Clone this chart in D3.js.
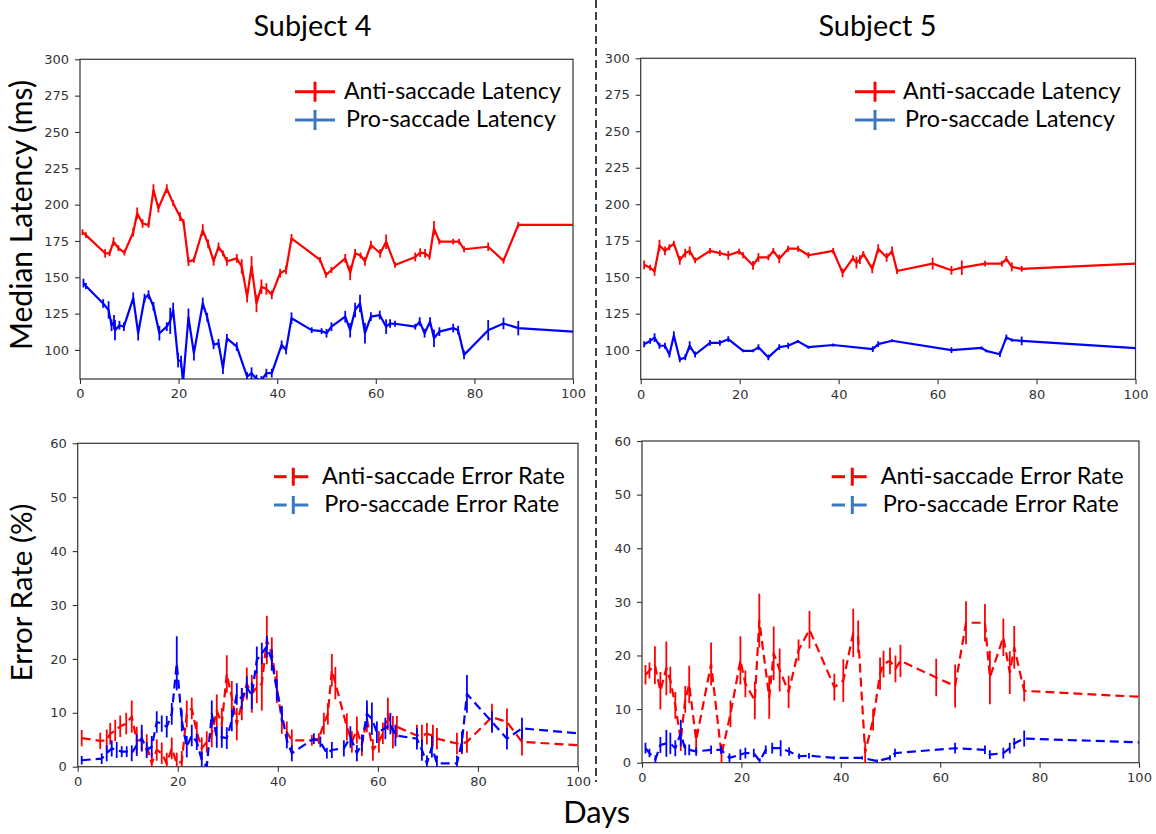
<!DOCTYPE html>
<html><head><meta charset="utf-8">
<script src="https://cdn.jsdelivr.net/npm/d3@7"></script>
<style>html,body{margin:0;padding:0;background:#fff;}svg{display:block;}</style>
</head><body>
<script>
// ---------------- DATA ----------------
const xTicks = [0, 20, 40, 60, 80, 100];
const latencyTicks = [100, 125, 150, 175, 200, 225, 250, 275, 300];
const errorTicks = [0, 10, 20, 30, 40, 50, 60];
const subjects = ["Subject 4", "Subject 5"];
const latencyLegend = ["Anti-saccade Latency", "Pro-saccade Latency"];
const errorLegend = ["Anti-saccade Error Rate", "Pro-saccade Error Rate"];

// Subject 4 - latency
const s4AntiLatDays = [0.5,1.2,5.1,6,6.8,7.8,9,10.8,11.6,12.7,13.9,14.9,15.9,17.6,18.9,20.3,21,22,23.1,24.9,26,27.1,28.1,29,29.8,31.8,32.8,33.9,34.8,35.8,36.8,37.8,38.9,40.6,41.8,42.9,48.7,49.9,51,53.8,54.8,55.8,56.9,57.8,59,60.9,62.1,63.9,68,69,70,70.9,71.8,72.9,75.7,76.9,77.9,82.8,85.9,88.9,100];
const s4AntiLatVals = [181,179,166.5,166.5,174.5,170,167,181,194,187,186,210,197.5,211,201,191.7,188,160.8,162,182.5,173,161,171,166.5,161,163,157.5,136.7,157.5,132,143.5,142,138,152.8,155,176.8,162,151.6,155,163,153,166.5,165,161,172.2,166.5,174.5,158.5,164,167,166.5,164,183.7,174.5,174.5,174.5,169.3,171,161.4,186,186];
const s4AntiLatErr = [2,2,3,2,3,2,2,3,4,3,2,4,3,3,2,3,2,3,2,4,3,3,3,2,3,3,5,4,7,6,5,4,3,3,3,3,2,2,2,3,5,3,2,3,3,3,5,2,3,3,3,2,5,2,2,2,2,3,2,2,0];
const s4ProLatDays = [0.7,1.2,4.7,5.8,6.4,6.9,7.1,8,8.9,10.8,11.8,13.1,13.9,14.9,16.1,17.6,18.3,18.9,19.9,20.5,20.9,22,23.1,24.9,25.8,27.1,28.1,29,29.8,31.8,33.9,34.8,35.8,36.8,37.8,38.9,40.9,41.8,42.9,47,49,50,51,53.8,54.8,55.8,56.8,57.8,59,60.8,62.1,62.9,63.9,68,68.9,69.9,71,71.8,72.9,75.7,76.7,77.9,82.8,85.9,88.9,100];
const s4ProLatVals = [146,144,132,127.5,117,119,113.6,117,116,135.6,111.5,135.6,138,130,111.5,116,120,127.5,93,92,78,122.5,97.7,132,122.5,103.5,104.6,87.4,108,102.3,81.7,84,80,79,84,84,103.5,100,121.8,113.6,113,111.5,116,122.9,113.6,127.5,132,111.5,122.9,124,116,118.2,118,116,119.5,111.5,119.5,108,112.6,115,113.6,96.6,113.6,118.2,115,112.6];
const s4ProLatErr = [3,2,3,6,4,5,7,3,3,4,5,3,3,3,5,3,9,5,5,4,5,6,5,4,3,3,3,4,3,3,3,4,3,3,3,3,3,3,4,2,2,3,3,4,5,5,6,7,3,3,5,3,2,2,3,3,3,6,3,3,3,3,7,4,5,0];

// Subject 5 - latency
const s5AntiLatDays = [0.7,1.9,2.8,3.8,4.9,5.8,6.7,7.9,9,9.9,11,14,16,17.7,19.9,20.7,22.7,23.8,25.8,26.8,28,29.8,31.8,33.9,38.9,40.8,42.9,43.6,44.3,45,46.8,48,49.7,50.8,51.8,59,62.8,64.9,69.6,73,73.9,75,77,100];
const s5AntiLatVals = [158.5,156.5,154,171.7,168,170.5,173,161.5,166.5,168,161.5,168,166.5,165,167.5,165,158,163.6,163.6,168,162.5,169.5,169.5,165,168,153,163,160,162,166,155.7,169.5,163.6,168,154.2,159.3,154.7,156.5,159.3,159.3,162.5,157,155.7,159.3];
const s5AntiLatErr = [3,2,3,4,3,2,2,3,3,3,2,2,2,3,2,2,3,3,2,2,3,2,2,2,2,3,2,4,3,2,3,3,3,3,2,4,3,5,2,2,2,3,2,0];
const s5ProLatDays = [0.7,1.9,2.8,3.8,4.9,5.8,6.7,7.9,9,9.9,11,14,16,17.7,20.7,22.7,23.8,25.8,28,29.8,31.8,33.9,38.9,46.9,48,50.8,62.8,68.9,69.8,72.6,73.9,75,77,100];
const s5ProLatVals = [104,106.3,108.6,103,103,97,110,93.6,95,103,97,105,105,107.5,99.5,99.5,102,95,102,103,106,102,103.5,100.7,104.1,106.4,100,101.5,99.5,97.2,108.7,106.9,106.4,101.4];
const s5ProLatErr = [2,2,3,2,2,2,3,2,2,3,2,2,2,2,1,1,2,2,2,2,1,1,1,2,2,1,2,1,1,2,2,1,3,0];

// Subject 4 - error rate
const s4AntiErrDays = [0.8,4.5,5.8,6.5,7.5,8.5,9.7,10.8,11.8,12.8,13.8,14.8,15.8,16.8,17.8,18.8,19.8,20.8,21.8,22.8,23.8,24.8,25.8,26.8,27.8,28.8,29.8,30.8,31.8,32.8,33.8,34.8,35.8,36.8,37.8,38.8,39.8,40.8,41.8,42.8,46.8,48.2,49.2,50,50.8,51.5,53.8,54.8,55.8,56.8,57.8,59,60.2,61,62,63,63.8,67.8,68.8,69.8,71,71.8,75.8,76.8,77.8,82.8,85.8,88.8,100];
const s4AntiErrVals = [5.3,4.8,4.9,6.1,6.7,7.5,8,9.3,4.9,4.9,4,0.6,3.1,2.5,0.6,3.4,0.6,0.9,9.8,10.8,6.4,3.4,4.6,6.1,10.4,7.9,17.2,12.9,7.9,11.6,15.4,13.5,14.8,15.4,23.5,21,14.8,8.6,6.4,4.9,4.9,5.2,8,9.8,17.9,15.5,7.4,4.6,6.8,4,8.9,3.1,4.6,6.2,9.8,6.4,7.4,5.8,5.8,6.1,5.8,5.2,4.3,4.3,4.6,9.2,8.3,4.6,4];
const s4AntiErrErr = [1.5,1.5,2,2,2,2,2,3,2.5,2,2,2,2,2,2,2,2,2,2.5,2,2,2,2,2.5,3,3,3.5,3,3,3,3,3.5,3,5,4.5,3,3,2.5,2,2,1,1,2,2,3,3,2.5,2,2.5,2,2.5,2,2,2,3,3,2,2,2,2,2,2,2,2,2,2.5,2.5,2.5,0];
const s4ProErrDays = [0.8,4.8,5.8,6.8,7.8,8.8,9.8,10.8,11.8,12.8,13.8,14.8,15.8,16.8,17.8,18.8,19.8,20.8,21.8,22.8,23.8,24.8,25.8,26.8,27.8,28.8,29.8,30.8,31.8,32.8,33.8,34.8,35.8,36.8,37.8,38.8,39.8,40.8,41.8,42.8,47.2,48.5,49.8,50.8,53.2,54.5,55.8,56.8,57.8,58.8,59.8,61.5,62.5,63.5,67.8,68.8,69.8,70.8,71.8,75.8,76.8,77.8,82.8,85.8,88.8,100];
const s4ProErrVals = [1.2,1.5,2.5,3.4,3.1,2.8,2.8,2.5,4,5.3,3.1,3.7,8.3,8,7.4,9.8,19.2,8.6,3.7,5.8,4.6,1.2,0,9.8,5.5,5.5,5.3,8.6,13.5,12.6,14.8,13.2,19.8,21,22.3,19.8,14.2,9.8,4.9,2.5,5.2,4.6,2.5,3.1,3.4,5.5,2.5,4.3,9.8,8.9,6.4,7.1,8,5.8,5.2,3.1,0.6,3.7,0.6,0.6,4.6,13.5,8.3,5.2,7.1,6.2];
const s4ProErrErr = [0.8,1,1.5,1.5,1.5,1,1,1.5,2,2.5,1.5,2,2,1.5,2,2,5,2,2,2,1.5,1.5,1,2.5,2,2,2,2,2,2,2,2.5,2.5,2,2,2,2,1.5,1.5,1.5,1,1,1,1.5,1.5,2,1.5,1.5,2.5,3,2,2,2,2,2,2,1.5,2,1.5,1.5,2,3.5,2,2,2,0];

// Subject 5 - error rate
const s5AntiErrDays = [0.7,1.5,2.6,3.7,4.9,5.7,6.7,7.8,8.7,9.5,10.9,13.9,16,17.8,19.8,20.8,22.7,23.6,25.6,26.5,27.7,29.5,31.5,33.7,38.7,40.5,42.5,43.5,44.9,46.5,47.9,48.6,49.9,51,52,59.2,63,65.2,69,70,72.7,74,74.9,76.9,100];
const s5AntiErrVals = [16.4,17.2,18.2,13.4,17.6,15.4,10.7,4.2,11.8,14.6,4.2,18.4,1.5,9.1,19.1,14.7,11.6,26.5,12.2,20.4,17.3,13.2,21,24.8,14.1,15.3,24.2,23.5,1.9,8,16.6,18.4,19,17.5,19,15.9,14.3,26.1,26.1,15.9,23.4,16.8,21.5,13.4,12.3];
const s5AntiErrErr = [1.8,1.5,3.5,3.5,5,2.5,2.5,2,2.5,3.5,2,4,2,2.5,4.5,2.5,3.5,5,4,5,4,3,2,3.5,2.5,4,4.5,3,2,2,3,2.5,2.5,2.5,3,3.5,4,4,3.5,5,3.5,4,4,2,0];
const s5ProErrDays = [0.7,1.5,2.7,3.7,4.9,5.7,6.7,7.8,8.7,9.5,10.9,13.9,15.9,17.6,19.8,20.8,22.5,23.7,24.9,26.2,27.9,29.6,31.6,33.6,38.6,44.3,47.3,49.9,50.9,63,69,70,72.7,74,74.9,76.9,100];
const s5ProErrVals = [2.7,1.8,0.6,3.3,3.6,3.6,2.7,5.5,2.4,2.4,2.1,2.4,2.4,0.9,1.5,1.8,1.8,0.3,2.4,2.7,2.7,2.1,1.2,1.3,0.9,0.9,0.3,0.9,1.8,2.7,2.4,1.5,1.8,2.7,3.6,4.5,3.8];
const s5ProErrErr = [1,0.8,0.8,1.5,2.5,2,1.5,2.5,1,1,0.8,0.8,0.8,0.8,1,1,0.8,0.5,0.8,1,1.5,0.8,0.5,0.5,0.3,0.3,0.3,0.5,0.8,1,0.8,0.8,1,1,1,1.5,0];

// ---------------- LAYOUT ----------------
const W = 1156, H = 834;
const RED = "#ff0000", BLUE = "#0000ff", LEG_BLUE = "#3a78c0";
const svg = d3.select("body").append("svg").attr("width", W).attr("height", H)
  .style("font-family", "Lato, 'Open Sans', sans-serif");

const panels = [
  {box:[80, 573, 59.3, 379], dom:[80, 300], ticks: latencyTicks, legend: latencyLegend, dashed:false,
   leg:{m0:295, m1:335, tick:315, rows:[91.7,120], tx:[344,346], tw:[217,210], base:[98.5,127]},
   series:[[s4AntiLatDays,s4AntiLatVals,s4AntiLatErr,RED],[s4ProLatDays,s4ProLatVals,s4ProLatErr,BLUE]]},
  {box:[640.7, 1135.5, 58.3, 379.3], dom:[80, 300], ticks: latencyTicks, legend: latencyLegend, dashed:false,
   leg:{m0:855, m1:895, tick:875, rows:[91.7,120], tx:[903,905], tw:[218,210], base:[98.5,127]},
   series:[[s5AntiLatDays,s5AntiLatVals,s5AntiLatErr,RED],[s5ProLatDays,s5ProLatVals,s5ProLatErr,BLUE]]},
  {box:[77.7, 578, 443.3, 766.7], dom:[0, 60], ticks: errorTicks, legend: errorLegend, dashed:true,
   leg:{m0:274, d1:286.7, tick:293.3, m1:308.3, rows:[476.7,505], tx:[322,324.3], tw:[243,235], base:[483.5,511.7]},
   series:[[s4AntiErrDays,s4AntiErrVals,s4AntiErrErr,RED],[s4ProErrDays,s4ProErrVals,s4ProErrErr,BLUE]]},
  {box:[642, 1139, 441, 762.7], dom:[0, 60], ticks: errorTicks, legend: errorLegend, dashed:true,
   leg:{m0:831.7, d1:845, tick:852.3, m1:866.7, rows:[476.7,505], tx:[880.7,882.7], tw:[243,236], base:[483.5,511.7]},
   series:[[s5AntiErrDays,s5AntiErrVals,s5AntiErrErr,RED],[s5ProErrDays,s5ProErrVals,s5ProErrErr,BLUE]]}
];

function fit(sel, w) {
  const len = sel.node().getComputedTextLength();
  const fs = +sel.attr("font-size");
  if (len > 0) sel.attr("font-size", fs * w / len);
  return sel;
}

panels.forEach((p, i) => {
  const [x0, x1, y0, y1] = p.box;
  const x = d3.scaleLinear().domain([0, 100]).range([x0, x1]);
  const y = d3.scaleLinear().domain(p.dom).range([y1, y0]);
  const g = svg.append("g");

  const cid = "clip" + i;
  svg.append("clipPath").attr("id", cid).append("rect")
    .attr("x", x0).attr("y", y0).attr("width", x1 - x0).attr("height", y1 - y0);

  // axes
  const ax = g.append("g").attr("transform", `translate(0,${y1})`)
    .call(d3.axisBottom(x).tickValues(xTicks).tickSize(5).tickPadding(5).tickFormat(d3.format("d")));
  const ay = g.append("g").attr("transform", `translate(${x0},0)`)
    .call(d3.axisLeft(y).tickValues(p.ticks).tickSize(5).tickPadding(6).tickFormat(d3.format("d")));
  [ax, ay].forEach(a => {
    a.select(".domain").remove();
    a.selectAll(".tick line").attr("stroke", "#333").attr("stroke-width", 1.1);
    a.selectAll(".tick text").attr("fill", "#333").attr("font-size", 13)
      .attr("font-family", "'DejaVu Sans', sans-serif");
  });
  // frame
  g.append("rect").attr("x", x0).attr("y", y0).attr("width", x1 - x0).attr("height", y1 - y0)
    .attr("fill", "none").attr("stroke", "#333").attr("stroke-width", 1.2);

  // series
  const plot = g.append("g").attr("clip-path", `url(#${cid})`);
  p.series.forEach(([days, vals, errs, color]) => {
    const pts = days.map((d, k) => [d, vals[k], errs[k]]);
    plot.append("path").datum(pts)
      .attr("d", d3.line().x(d => x(d[0])).y(d => y(d[1])))
      .attr("fill", "none").attr("stroke", color).attr("stroke-width", 2.2)
      .attr("stroke-linejoin", "round")
      .attr("stroke-dasharray", p.dashed ? "9,5" : null);
    plot.selectAll(null).data(pts.filter(d => d[2] > 0)).enter().append("line")
      .attr("x1", d => x(d[0])).attr("x2", d => x(d[0]))
      .attr("y1", d => y(d[1] - d[2])).attr("y2", d => y(d[1] + d[2]))
      .attr("stroke", color).attr("stroke-width", 1.8);
  });

  // legend
  const L = p.leg;
  [RED, LEG_BLUE].forEach((c, k) => {
    const ry = L.rows[k];
    if (p.dashed) {
      g.append("line").attr("x1", L.m0).attr("x2", L.d1).attr("y1", ry).attr("y2", ry)
        .attr("stroke", c).attr("stroke-width", 3);
      g.append("line").attr("x1", L.tick).attr("x2", L.m1).attr("y1", ry).attr("y2", ry)
        .attr("stroke", c).attr("stroke-width", 3);
      g.append("line").attr("x1", L.tick).attr("x2", L.tick).attr("y1", ry - 9).attr("y2", ry + 9)
        .attr("stroke", c).attr("stroke-width", 3);
    } else {
      g.append("line").attr("x1", L.m0).attr("x2", L.m1).attr("y1", ry).attr("y2", ry)
        .attr("stroke", c).attr("stroke-width", 3);
      g.append("line").attr("x1", L.tick).attr("x2", L.tick).attr("y1", ry - 10).attr("y2", ry + 10)
        .attr("stroke", c).attr("stroke-width", 3);
    }
    const t = g.append("text").attr("x", L.tx[k]).attr("y", L.base[k])
      .attr("font-size", 22).attr("fill", "#000").text(p.legend[k]);
    fit(t, L.tw[k]);
  });
});

// subject titles
fit(svg.append("text").attr("x", 312.5).attr("y", 36).attr("text-anchor", "middle")
  .attr("font-size", 29).text(subjects[0]), 118);
fit(svg.append("text").attr("x", 877.5).attr("y", 36).attr("text-anchor", "middle")
  .attr("font-size", 29).text(subjects[1]), 118);

// y labels
fit(svg.append("text").attr("transform", "translate(32,215) rotate(-90)").attr("text-anchor", "middle")
  .attr("font-size", 29).text("Median Latency (ms)"), 270);
fit(svg.append("text").attr("transform", "translate(32,592.5) rotate(-90)").attr("text-anchor", "middle")
  .attr("font-size", 29).text("Error Rate (%)"), 178);

// x label
fit(svg.append("text").attr("x", 596.7).attr("y", 823).attr("text-anchor", "middle")
  .attr("font-size", 29).text("Days"), 67);

// divider
svg.append("line").attr("x1", 596).attr("x2", 596).attr("y1", 0).attr("y2", 782)
  .attr("stroke", "#000").attr("stroke-width", 1.5).attr("stroke-dasharray", "8,4");
</script>
</body></html>
